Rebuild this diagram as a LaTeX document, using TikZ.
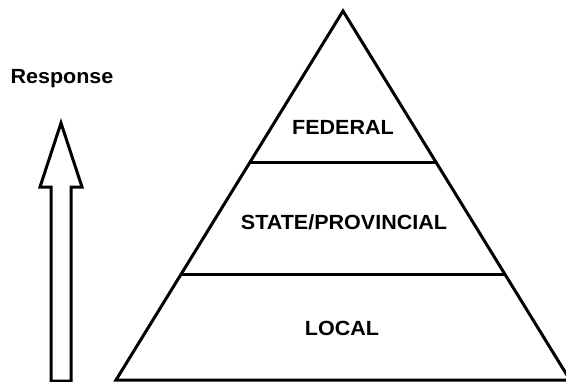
\documentclass[tikz,border=0pt]{standalone}
\usepackage{fontspec}
\setmainfont{Liberation Sans}
\begin{document}
\begin{tikzpicture}[x=1pt,y=-1pt,
  edge/.style={line width=3pt,line join=miter},
  lbl/.style={font=\fontsize{20.5}{22}\selectfont\bfseries,inner sep=0pt,anchor=center,xscale=1.05,transform shape}]
\useasboundingbox (0,0) rectangle (566,381);
\clip (0,0) rectangle (566,381);
\coordinate (apex) at (343,11);
\coordinate (bl) at (116,380);
\coordinate (br) at (570,380);
\draw[edge] (bl) -- (apex) -- (br) -- cycle;
\path (apex) -- (bl) coordinate[pos=0.4106] (l1);
\path (apex) -- (br) coordinate[pos=0.4106] (r1);
\path (apex) -- (bl) coordinate[pos=0.7154] (l2);
\path (apex) -- (br) coordinate[pos=0.7154] (r2);
\draw[edge] (l1) -- (r1);
\draw[edge] (l2) -- (r2);
\node[lbl] (fed) at (343,127) {FEDERAL};
\node[lbl] (state) at (344,222) {STATE/PROVINCIAL};
\node[lbl] (local) at (342,328) {LOCAL};
\node[lbl] (resp) at (62,79) {Response};
\coordinate (tip) at (61,123);
\draw[edge] (tip) -- (82,187) -- (71,187) -- (71,381) -- (51,381) -- (51,187) -- (40,187) -- cycle;
\end{tikzpicture}
\end{document}
